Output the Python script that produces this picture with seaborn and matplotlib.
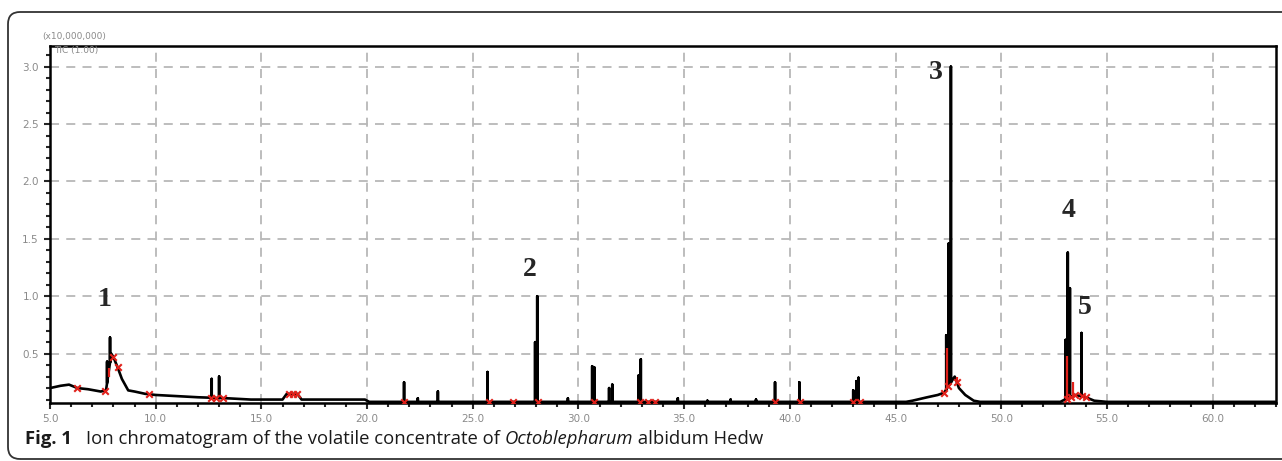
import numpy as np
import pandas as pd
import matplotlib
matplotlib.use("Agg")
import matplotlib.pyplot as plt
import seaborn as sns
from matplotlib.patches import FancyBboxPatch
from matplotlib.transforms import IdentityTransform
from matplotlib.ticker import MultipleLocator

# baseline of the trace (retention time in min, intensity x10,000,000)
base_time = [5.0, 5.5, 5.9, 6.3, 6.8, 7.4, 7.65, 7.9, 8.0, 8.2, 8.4, 8.7, 9.0, 9.5, 10.0,
             11.0, 12.0, 13.5, 14.5, 16.0, 16.2, 16.7, 16.9, 19.9, 20.1, 45.5, 45.8, 46.5,
             47.0, 47.3, 47.8, 48.0, 48.3, 48.7, 49.0, 52.8, 53.0, 53.5, 54.0, 54.4, 55.0, 63.0]
base_value = [0.20, 0.22, 0.23, 0.20, 0.19, 0.17, 0.18, 0.50, 0.47, 0.38, 0.28, 0.18, 0.17,
              0.15, 0.14, 0.13, 0.12, 0.11, 0.10, 0.10, 0.15, 0.15, 0.10, 0.10, 0.08, 0.08,
              0.09, 0.12, 0.14, 0.16, 0.30, 0.20, 0.14, 0.09, 0.08, 0.08, 0.10, 0.14, 0.12,
              0.09, 0.08, 0.08]

# sharp peaks
peak_time = [7.70, 7.84, 12.65, 13.00, 21.75, 22.4, 23.35, 25.70, 27.95, 28.05, 29.5,
             30.65, 30.75, 31.45, 31.60, 32.85, 32.95, 34.70, 36.1, 37.2, 38.4, 39.30,
             40.45, 43.00, 43.15, 43.25, 47.40, 47.52, 47.62, 53.05, 53.15, 53.25, 53.80]
peak_height = [0.43, 0.64, 0.28, 0.30, 0.25, 0.11, 0.17, 0.34, 0.60, 1.00, 0.11,
               0.39, 0.38, 0.20, 0.23, 0.31, 0.45, 0.11, 0.09, 0.10, 0.10, 0.25,
               0.25, 0.18, 0.26, 0.29, 0.66, 1.46, 3.00, 0.62, 1.38, 1.07, 0.68]

# red integration marks
mark_time = [6.3, 7.6, 8.0, 8.2, 9.7, 12.6, 12.85, 13.2, 16.3, 16.5, 16.7, 21.75, 25.75,
             26.9, 28.1, 30.75, 32.9, 33.3, 33.6, 39.3, 40.5, 43.0, 43.3, 47.3, 47.5,
             47.9, 53.1, 53.3, 53.5, 53.8, 54.0]
red_time = [7.8, 47.45, 47.9, 53.12, 53.4]
red_top = [0.30, 0.55, 0.30, 0.48, 0.25]

peak_labels = ["1", "2", "3", "4", "5"]
label_time = [7.6, 27.7, 46.9, 53.2, 53.95]
label_y = [0.97, 1.23, 2.95, 1.75, 0.90]

x_ticks = [5.0, 10.0, 15.0, 20.0, 25.0, 30.0, 35.0, 40.0, 45.0, 50.0, 55.0, 60.0]
y_ticks = [0.5, 1.0, 1.5, 2.0, 2.5, 3.0]

# build the trace: baseline with spikes on it
pts = [(t, 0, v) for t, v in zip(base_time, base_value)]
for t, h in zip(peak_time, peak_height):
    b = float(np.interp(t, base_time, base_value))
    pts += [(t, 1, b), (t, 2, h), (t, 3, b)]
pts.sort(key=lambda p: (p[0], p[1]))
trace = pd.DataFrame({"time": [p[0] for p in pts], "value": [p[2] for p in pts]})

sns.set_style("white")
plt.rcParams["font.family"] = ["DejaVu Sans"]

fig = plt.figure(figsize=(12.82, 4.61), dpi=100)
ax = fig.add_axes([50 / 1282, 58 / 461, 1226 / 1282, 357 / 461])

sns.lineplot(data=trace, x="time", y="value", sort=False, estimator=None,
             color="black", linewidth=1.9, ax=ax, zorder=3)

ax.vlines(red_time, [np.interp(t, base_time, base_value) for t in red_time], red_top,
          color="#e0201a", linewidth=1.6, zorder=4)
mark_y = [np.interp(t, base_time, base_value) for t in mark_time]
ax.scatter(mark_time, mark_y, marker="x", s=22, color="#e0201a", linewidths=1.5, zorder=4)

for lab, t, yv in zip(peak_labels, label_time, label_y):
    ax.text(t, yv, lab, ha="center", va="center", fontsize=20, fontweight="bold",
            family="Liberation Serif", zorder=5)

ax.set_xlim(5.0, 63.0)
ax.set_ylim(0.07, 3.18)
ax.set_xticks(x_ticks)
ax.set_xticklabels(["%.1f" % v for v in x_ticks])
ax.set_yticks(y_ticks)
ax.set_yticklabels(["%.1f" % v for v in y_ticks])
ax.xaxis.set_minor_locator(MultipleLocator(1.0))
ax.yaxis.set_minor_locator(MultipleLocator(0.1))
ax.tick_params(axis="both", which="major", direction="out", length=4, width=1.5,
               labelsize=7.5, labelcolor="#8a8a8a", pad=4)
ax.tick_params(axis="both", which="minor", direction="out", length=3, width=1.5)
ax.tick_params(bottom=True, left=True, which="both")

for v in x_ticks[1:]:
    ax.axvline(v, color="#b8b8b8", linestyle=(0, (5, 4)), linewidth=1.3, zorder=1)
for v in y_ticks:
    ax.axhline(v, color="#b8b8b8", linestyle=(0, (5, 4)), linewidth=1.3, zorder=1)

for s in ax.spines.values():
    s.set_visible(True)
    s.set_color("black")
    s.set_linewidth(1.8)
ax.set_xlabel("")
ax.set_ylabel("")

fig.text(42 / 1282, 1 - 37 / 461, "(x10,000,000)", fontsize=6.5, color="#8a8a8a",
         va="center")
fig.text(54 / 1282, 1 - 50 / 461, "TIC (1.00)", fontsize=6.5, color="#8a8a8a",
         va="center")

# outer border of the figure panel
border = FancyBboxPatch((8, 2), 1300, 447, boxstyle="round,pad=0,rounding_size=12",
                        transform=IdentityTransform(), fill=False,
                        edgecolor="#333333", linewidth=1.3)
fig.add_artist(border)

# caption, drawn piece by piece
fig.canvas.draw()
renderer = fig.canvas.get_renderer()
x_pos = 25
parts = [("Fig. 1", "bold", "normal", 14),
         ("Ion chromatogram of the volatile concentrate of ", "normal", "normal", 0),
         ("Octoblepharum", "normal", "italic", 0),
         (" albidum Hedw", "normal", "normal", 0)]
for text, weight, style, gap in parts:
    t = fig.text(x_pos / 1282, 17 / 461, text, fontsize=13.3, fontweight=weight,
                 fontstyle=style, family="Open Sans", color="#1a1a1a", va="baseline")
    bb = t.get_window_extent(renderer=renderer)
    x_pos = bb.x1 + gap

fig.savefig("out.png", dpi=100)
